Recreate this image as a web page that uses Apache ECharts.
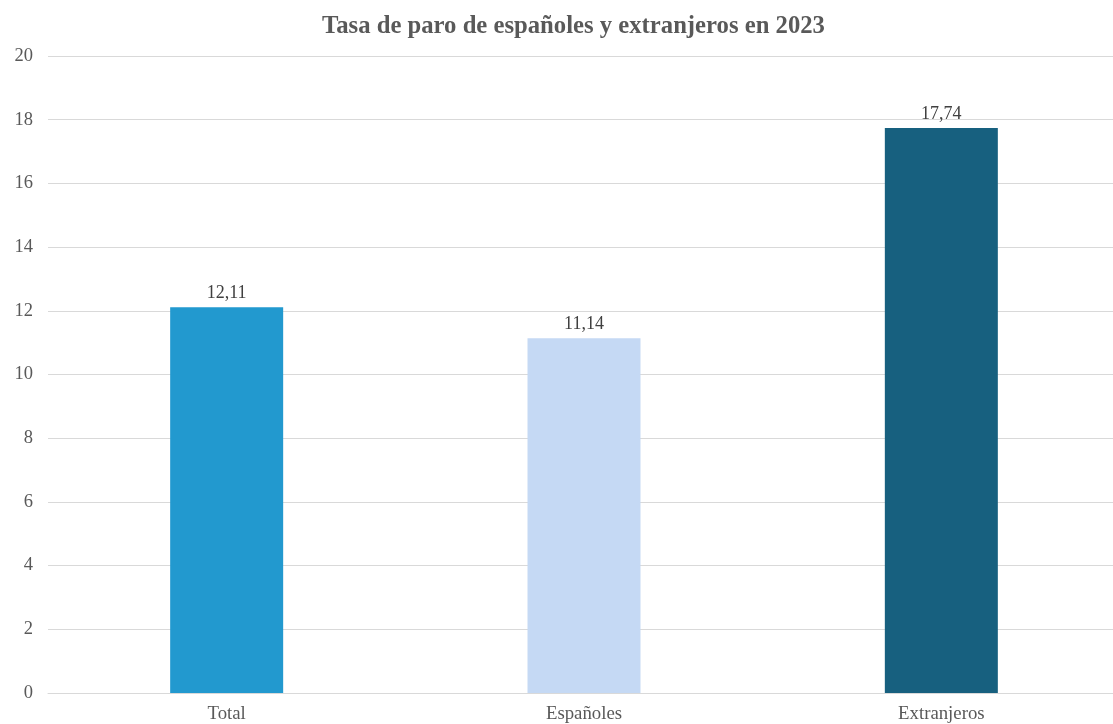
<!DOCTYPE html>
<html>
<head>
<meta charset="utf-8">
<script src="https://cdn.jsdelivr.net/npm/echarts@6/dist/echarts.min.js"></script>
<style>
  html, body { margin: 0; padding: 0; background: #fff; overflow: hidden; }
  #chart { width: 1120px; height: 724px; }
</style>
</head>
<body>
<div id="chart"></div>
<script>
// Unemployment rate by nationality, 2023
const categories = ['Total', 'Españoles', 'Extranjeros'];
const rates = [12.11, 11.14, 17.74];
const barColors = ['#2299CF', '#C5D9F4', '#17607F'];
const titleText = 'Tasa de paro de españoles y extranjeros en 2023';

const fontFamily = '"Liberation Serif", "Times New Roman", serif';

const chart = echarts.init(document.getElementById('chart'));
chart.setOption({
  animation: false,
  textStyle: { fontFamily },
  title: {
    text: titleText,
    left: 317,
    top: 9,
    textStyle: { fontFamily, fontSize: 24.7, fontWeight: 'bold', color: '#595959' }
  },
  grid: { left: 48, right: 0, top: 56, bottom: 29.5, containLabel: false },
  xAxis: {
    type: 'category',
    data: categories,
    axisLine: { show: true, lineStyle: { color: '#D9D9D9', width: 1 } },
    axisTick: { show: false },
    axisLabel: { fontFamily, fontSize: 18.8, color: '#595959', margin: 12 }
  },
  yAxis: {
    type: 'value',
    min: 0,
    max: 20,
    interval: 2,
    axisLine: { show: false },
    axisTick: { show: false },
    axisLabel: { fontFamily, fontSize: 18.5, color: '#595959', margin: 15 },
    splitLine: { lineStyle: { color: '#D9D9D9', width: 1 } }
  },
  series: [{
    type: 'bar',
    data: rates.map((v, i) => ({ value: v, itemStyle: { color: barColors[i] } })),
    barWidth: 113,
    label: {
      show: true,
      position: 'top',
      distance: 5,
      fontFamily,
      fontSize: 18,
      color: '#404040',
      formatter: p => p.value.toFixed(2).replace('.', ',')
    }
  }]
});
</script>
</body>
</html>
